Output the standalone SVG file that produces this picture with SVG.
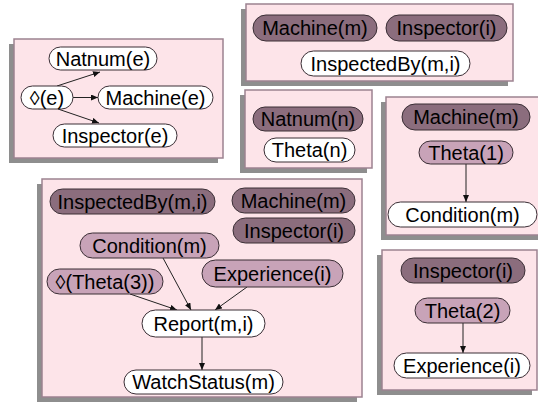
<svg xmlns="http://www.w3.org/2000/svg" width="538" height="404" viewBox="0 0 538 404">
<style>
.shadow{fill:#8e8e8e}
.box{fill:#fde4e9;stroke:#9c8290;stroke-width:1.5}
.n{stroke:#3a2e35;stroke-width:1}
.dark{fill:#8b6d7d}
.mid{fill:#c8a3b8}
.white{fill:#ffffff}
text{font-family:"Liberation Sans",Arial,sans-serif;font-size:20px;fill:#000;text-anchor:middle}
.c{stroke:#222;stroke-width:1;fill:none;marker-end:url(#ah)}
</style>
<defs>
<marker id="ah" markerUnits="userSpaceOnUse" markerWidth="7" markerHeight="6" refX="7" refY="3" orient="auto">
<path d="M0,0 L7,3 L0,6 z" fill="#111"/>
</marker>
</defs>
<rect width="538" height="404" fill="#fff"/>

<g id="box1">
<rect class="shadow" x="9" y="44" width="209" height="119"/>
<rect class="box" x="14" y="39" width="209" height="119"/>
</g>
<g id="box2">
<rect class="shadow" x="241" y="9" width="267" height="77"/>
<rect class="box" x="246" y="4" width="267" height="77"/>
</g>
<g id="box3">
<rect class="shadow" x="240" y="95" width="127" height="78"/>
<rect class="box" x="245" y="90" width="127" height="78"/>
</g>
<g id="box4">
<rect class="shadow" x="381" y="102" width="170" height="138"/>
<rect class="box" x="386" y="97" width="170" height="138"/>
</g>
<g id="box5">
<rect class="shadow" x="37" y="184" width="320" height="218"/>
<rect class="box" x="42" y="179" width="320" height="218"/>
</g>
<g id="box6">
<rect class="shadow" x="377" y="255" width="155" height="140"/>
<rect class="box" x="382" y="250" width="155" height="140"/>
</g>

<g id="connectors">
<line class="c" x1="57" y1="86" x2="100" y2="72"/>
<line class="c" x1="73" y1="97.5" x2="98" y2="97.5"/>
<line class="c" x1="58" y1="109" x2="99" y2="123"/>
<line class="c" x1="466" y1="164" x2="466" y2="202"/>
<line class="c" x1="163" y1="258" x2="191" y2="310"/>
<line class="c" x1="130" y1="294" x2="177" y2="310"/>
<line class="c" x1="247" y1="287" x2="215" y2="310"/>
<line class="c" x1="202" y1="337" x2="202" y2="370"/>
<line class="c" x1="463" y1="323" x2="463" y2="353"/>
</g>

<g id="n-natnum-e"><rect class="n white" x="49" y="47" width="108" height="23" rx="11.5"/><text x="103" y="65.5">Natnum(e)</text></g>
<g id="n-diamond-e"><rect class="n white" x="21" y="86" width="52" height="23" rx="11.5"/><text x="47" y="104.5">◊(e)</text></g>
<g id="n-machine-e"><rect class="n white" x="98" y="86" width="115" height="23" rx="11.5"/><text x="155.5" y="104.5">Machine(e)</text></g>
<g id="n-inspector-e"><rect class="n white" x="53" y="124" width="124" height="23" rx="11.5"/><text x="115" y="142.5">Inspector(e)</text></g>

<g id="n2-machine-m"><rect class="n dark" x="253" y="15" width="124" height="26" rx="13"/><text x="315" y="35">Machine(m)</text></g>
<g id="n2-inspector-i"><rect class="n dark" x="386" y="15" width="121" height="26" rx="13"/><text x="446.5" y="35">Inspector(i)</text></g>
<g id="n2-inspectedby"><rect class="n white" x="301" y="51" width="169" height="25" rx="12.5"/><text x="385.5" y="70.5">InspectedBy(m,i)</text></g>

<g id="n3-natnum-n"><rect class="n dark" x="253" y="107" width="110" height="24" rx="12"/><text x="308" y="126">Natnum(n)</text></g>
<g id="n3-theta-n"><rect class="n white" x="264" y="138" width="91" height="24" rx="12"/><text x="309.5" y="157">Theta(n)</text></g>

<g id="n4-machine-m"><rect class="n dark" x="402" y="104" width="128" height="26" rx="13"/><text x="466" y="124">Machine(m)</text></g>
<g id="n4-theta-1"><rect class="n mid" x="419" y="141" width="94" height="23" rx="11.5"/><text x="466" y="159.5">Theta(1)</text></g>
<g id="n4-condition-m"><rect class="n white" x="388" y="202" width="149" height="25" rx="12.5"/><text x="462.5" y="221.5">Condition(m)</text></g>

<g id="n5-inspectedby"><rect class="n dark" x="50" y="189" width="165" height="25" rx="12.5"/><text x="132.5" y="208.5">InspectedBy(m,i)</text></g>
<g id="n5-machine-m"><rect class="n dark" x="232" y="188" width="123" height="25" rx="12.5"/><text x="293.5" y="207.5">Machine(m)</text></g>
<g id="n5-inspector-i"><rect class="n dark" x="233" y="218" width="122" height="25" rx="12.5"/><text x="294" y="237.5">Inspector(i)</text></g>
<g id="n5-condition-m"><rect class="n mid" x="80" y="233" width="139" height="25" rx="12.5"/><text x="149.5" y="252.5">Condition(m)</text></g>
<g id="n5-experience-i"><rect class="n mid" x="202" y="260" width="141" height="27" rx="13.5"/><text x="272.5" y="280.5">Experience(i)</text></g>
<g id="n5-diamond-theta3"><rect class="n mid" x="47" y="269" width="116" height="25" rx="12.5"/><text x="105" y="288.5">◊(Theta(3))</text></g>
<g id="n5-report"><rect class="n white" x="142" y="310" width="123" height="27" rx="13.5"/><text x="203.5" y="330.5">Report(m,i)</text></g>
<g id="n5-watchstatus"><rect class="n white" x="124" y="370" width="159" height="24" rx="12"/><text x="203.5" y="389">WatchStatus(m)</text></g>

<g id="n6-inspector-i"><rect class="n dark" x="401" y="258" width="124" height="25" rx="12.5"/><text x="463" y="277.5">Inspector(i)</text></g>
<g id="n6-theta-2"><rect class="n mid" x="415" y="298" width="95" height="25" rx="12.5"/><text x="462.5" y="317.5">Theta(2)</text></g>
<g id="n6-experience-i"><rect class="n white" x="394" y="353" width="136" height="25" rx="12.5"/><text x="462" y="372.5">Experience(i)</text></g>
</svg>
